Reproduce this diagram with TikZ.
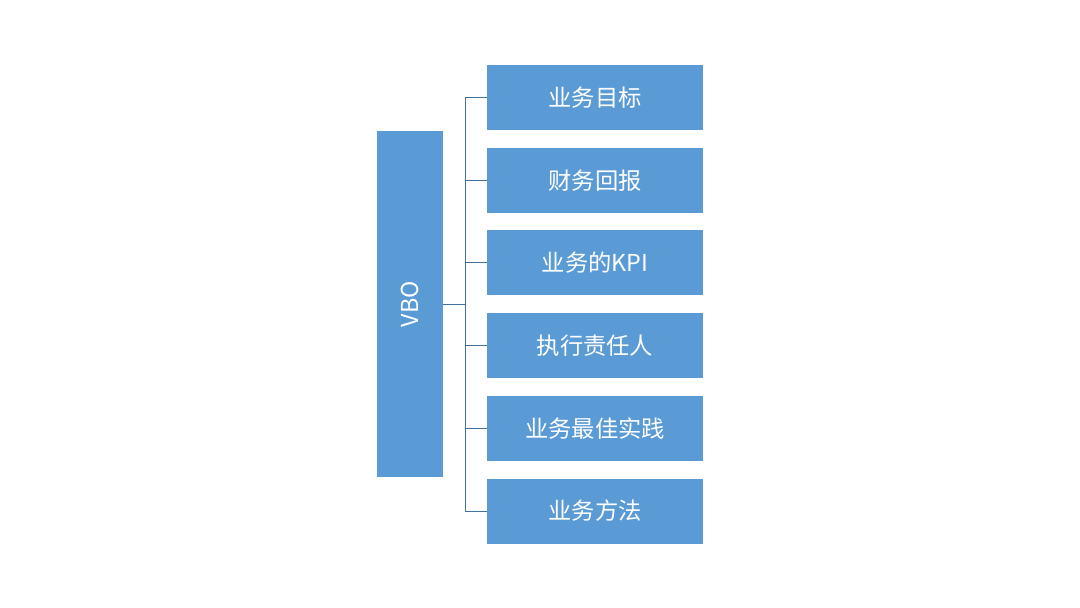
\documentclass[tikz,border=0pt]{standalone}
\usepackage{fontspec}
\setmainfont{Noto Sans CJK SC}
\definecolor{boxblue}{HTML}{5B9BD5}
\definecolor{lineblue}{HTML}{41719C}

\begin{document}
\begin{tikzpicture}[x=1pt,y=-1pt,
  item/.style={fill=boxblue, text=white, minimum width=216pt, minimum height=65pt, inner sep=0pt, font=\fontsize{23.3}{27}\selectfont},
  root/.style={fill=boxblue, text=white, minimum width=66pt, minimum height=346pt, inner sep=0pt, font=\fontsize{23.3}{27}\selectfont},
  link/.style={draw=lineblue, line width=0.9pt}]
\useasboundingbox (0,0) rectangle (1080,608);
\node [root] (vbo) at (410,304) {\rotatebox{90}{VBO}};
\coordinate (fork) at (465,304);
\draw [link] (vbo.east) -- (fork);
\foreach \name/\txt [count=\i from 0] in {goal/业务目标, ret/财务回报, kpi/业务的KPI, owner/执行责任人, best/业务最佳实践, method/业务方法}
{
  \node [item] (\name) at (595,97.5+82.7*\i) {\txt};
  \draw [link] (fork) |- (\name.west);
}
\end{tikzpicture}
\end{document}
